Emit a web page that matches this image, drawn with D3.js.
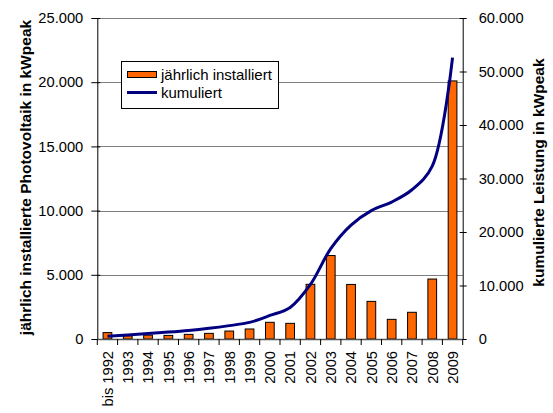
<!DOCTYPE html>
<html>
<head>
<meta charset="utf-8">
<script src="https://cdn.jsdelivr.net/npm/d3@7"></script>
<style>
  html, body { margin: 0; padding: 0; background: #fff; }
  svg { display: block; font-family: "Liberation Sans", Arial, sans-serif; }
</style>
</head>
<body>
<svg id="chart" width="553" height="413"></svg>
<script>
const years = ["bis 1992","1993","1994","1995","1996","1997","1998","1999","2000","2001","2002","2003","2004","2005","2006","2007","2008","2009"];
const annual = [500, 250, 300, 280, 360, 440, 620, 780, 1300, 1220, 4260, 6500, 4250, 2930, 1530, 2080, 4670, 20100];
const cumulative = [500, 750, 1050, 1300, 1600, 2000, 2500, 3100, 4400, 5900, 10200, 16900, 21300, 24000, 25600, 27900, 32300, 52600];
const leftTicks = [0, 5000, 10000, 15000, 20000, 25000];
const rightTicks = [0, 10000, 20000, 30000, 40000, 50000, 60000];
const legendLabels = ["jährlich installiert", "kumuliert"];
const leftTitle = "jährlich installierte Photovoltaik in kWpeak";
const rightTitle = "kumulierte Leistung in kWpeak";

const fmt = d3.formatLocale({decimal: ",", thousands: ".", grouping: [3], currency: ["", ""]}).format(",");

const svg = d3.select("#chart");
const X0 = 97.3, X1 = 462.7, Y0 = 339, Y1 = 18;

const x = d3.scaleBand().domain(years).range([X0, X1]).paddingInner(0.57).paddingOuter(0.285);
const yL = d3.scaleLinear().domain([0, 25000]).range([Y0, Y1]);
const yR = d3.scaleLinear().domain([0, 60000]).range([Y0, Y1]);

// gridlines
svg.append("g").selectAll("line").data(leftTicks).join("line")
  .attr("x1", X0).attr("x2", X1)
  .attr("y1", d => Math.round(yL(d)) + 0.5).attr("y2", d => Math.round(yL(d)) + 0.5)
  .attr("stroke", "#808080").attr("stroke-width", 1);

// bars
svg.append("g").selectAll("rect").data(annual).join("rect")
  .attr("x", (d, i) => x(years[i]))
  .attr("y", d => yL(d))
  .attr("width", x.bandwidth())
  .attr("height", d => Y0 - yL(d))
  .attr("fill", "#FF6600")
  .attr("stroke", "#000").attr("stroke-width", 1);

// left axis
const gL = svg.append("g").attr("transform", `translate(${X0},0)`)
  .call(d3.axisLeft(yL).tickValues(leftTicks).tickFormat(fmt).tickSizeInner(6).tickSizeOuter(0).tickPadding(8));
gL.select(".domain").attr("stroke", "#000");
gL.selectAll(".tick line").attr("stroke", "#000").attr("x2", 3).attr("x1", -6);
gL.selectAll("text").attr("font-size", "14.7px").attr("fill", "#000").attr("font-family", "Liberation Sans, Arial, sans-serif");

// right axis
const gR = svg.append("g").attr("transform", `translate(${X1},0)`)
  .call(d3.axisRight(yR).tickValues(rightTicks).tickFormat(fmt).tickSizeInner(6).tickSizeOuter(0).tickPadding(10));
gR.select(".domain").attr("stroke", "#000");
gR.selectAll(".tick line").attr("stroke", "#000").attr("x1", -3).attr("x2", 4);
gR.selectAll("text").attr("font-size", "14.7px").attr("fill", "#000").attr("font-family", "Liberation Sans, Arial, sans-serif");

// bottom axis
const step = x.step();
const gB = svg.append("g");
gB.append("line").attr("x1", X0).attr("x2", X1).attr("y1", Y0 + 0.5).attr("y2", Y0 + 0.5)
  .attr("stroke", "#555").attr("stroke-width", 1.5);
gB.selectAll("line.tk").data(d3.range(years.length + 1)).join("line").attr("class", "tk")
  .attr("x1", i => X0 + i * (X1 - X0) / years.length).attr("x2", i => X0 + i * (X1 - X0) / years.length)
  .attr("y1", Y0).attr("y2", Y0 + 6).attr("stroke", "#000");
gB.selectAll("text").data(years).join("text")
  .attr("transform", d => `translate(${x(d) + x.bandwidth() / 2 + 5.3},351) rotate(-90)`)
  .attr("text-anchor", "end")
  .attr("font-size", "14.7px").attr("fill", "#000")
  .text(d => d);

// cumulative line
const line = d3.line()
  .x((d, i) => x(years[i]) + x.bandwidth() / 2)
  .y(d => yR(d))
  .curve(d3.curveCatmullRom.alpha(0.5));
svg.append("path").datum(cumulative)
  .attr("d", line)
  .attr("fill", "none").attr("stroke", "#000080").attr("stroke-width", 3)
  .attr("stroke-linejoin", "round");

// axis titles
svg.append("text").attr("transform", `translate(31,177.5) rotate(-90)`)
  .attr("text-anchor", "middle").attr("font-weight", "bold").attr("font-size", "15.5px")
  .text(leftTitle);
svg.append("text").attr("transform", `translate(544,172.5) rotate(-90)`)
  .attr("text-anchor", "middle").attr("font-weight", "bold").attr("font-size", "15.5px")
  .text(rightTitle);

// legend
const lg = svg.append("g");
lg.append("rect").attr("x", 121.5).attr("y", 61.5).attr("width", 157).attr("height", 47)
  .attr("fill", "#fff").attr("stroke", "#000").attr("stroke-width", 1);
lg.append("rect").attr("x", 127.5).attr("y", 71.5).attr("width", 29).attr("height", 6)
  .attr("fill", "#FF6600").attr("stroke", "#000").attr("stroke-width", 1);
lg.append("line").attr("x1", 127).attr("x2", 157).attr("y1", 92.5).attr("y2", 92.5)
  .attr("stroke", "#000080").attr("stroke-width", 3);
lg.append("text").attr("x", 161).attr("y", 80).attr("font-size", "15px").text(legendLabels[0]);
lg.append("text").attr("x", 161).attr("y", 98).attr("font-size", "15px").text(legendLabels[1]);
</script>
</body>
</html>
